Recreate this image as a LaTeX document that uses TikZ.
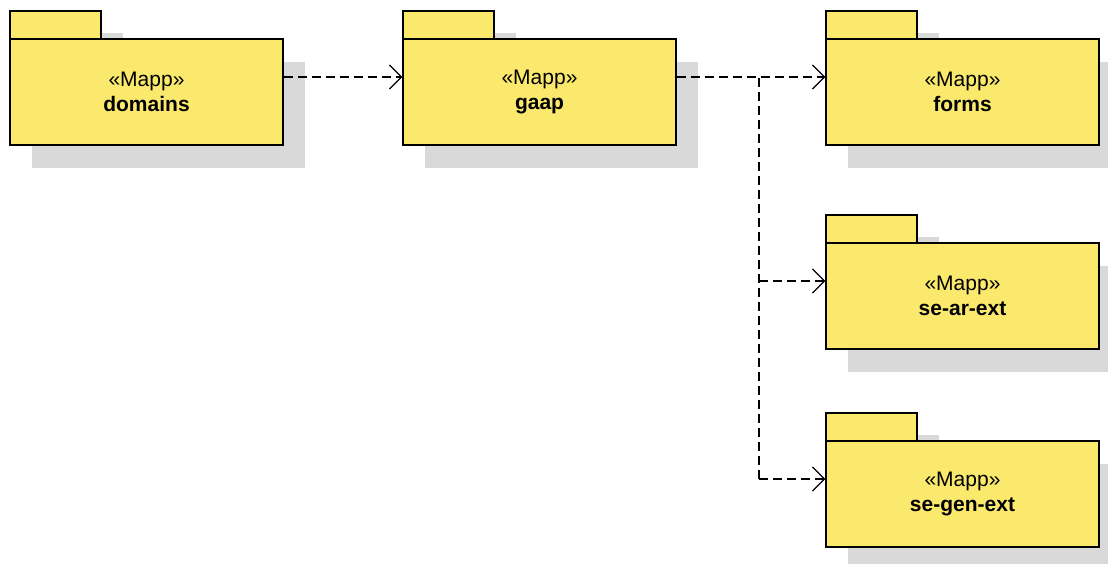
\documentclass[tikz,border=0pt]{standalone}
\usepackage{fontspec}
\setmainfont{Liberation Sans}
\usetikzlibrary{arrows.meta}
\definecolor{pkgyellow}{RGB}{251,233,110}
\definecolor{shadowgray}{RGB}{217,217,217}
\tikzset{
  shadowfill/.style={fill=shadowgray},
  pkgtab/.style={draw=black,line width=1.4pt,fill=pkgyellow},
  pkgbody/.style={draw=black,line width=1.4pt,fill=pkgyellow,minimum width=273pt,minimum height=106pt,inner sep=0pt,align=center,font=\fontsize{21}{25}\selectfont},
  dep/.style={draw=black,line width=1.2pt,dash pattern=on 9pt off 5pt,-{Straight Barb[length=12pt,width=24pt,line width=1.2pt]}},
  depline/.style={draw=black,line width=1.2pt,dash pattern=on 9pt off 5pt}
}
\newcommand\umlpkg[4]{%
  \fill[shadowfill] (#2+22,#3-7) rectangle (#2+113,#3+22);
  \fill[shadowfill] (#2+22,#3+22) rectangle (#2+295,#3+128);
  \draw[pkgtab] (#2,#3-29) rectangle (#2+91,#3);
  \node[pkgbody] (#1) at (#2+136.5,#3+52) {«Mapp»\\\textbf{#4}};
}
\begin{document}
\begin{tikzpicture}[x=1pt,y=-1pt]
\useasboundingbox (0,0) rectangle (1108,564);
\umlpkg{domains}{10}{40}{domains}
\umlpkg{gaap}{403}{40}{gaap}
\umlpkg{forms}{826}{40}{forms}
\umlpkg{searext}{826}{244}{se-ar-ext}
\umlpkg{segenext}{826}{442}{se-gen-ext}
\coordinate (j) at (759,78);
\coordinate (tar) at ([yshift=15pt]searext.west);
\coordinate (tgen) at ([yshift=15pt]segenext.west);
\draw[dep] ([yshift=15pt]domains.east) -- ([yshift=15pt]gaap.west);
\draw[dep] ([yshift=15pt]gaap.east) -- ([yshift=15pt]forms.west);
\draw[depline] (j) -- (j |- tgen);
\draw[dep] (j |- tar) -- (tar);
\draw[dep] (j |- tgen) -- (tgen);
\end{tikzpicture}
\end{document}
